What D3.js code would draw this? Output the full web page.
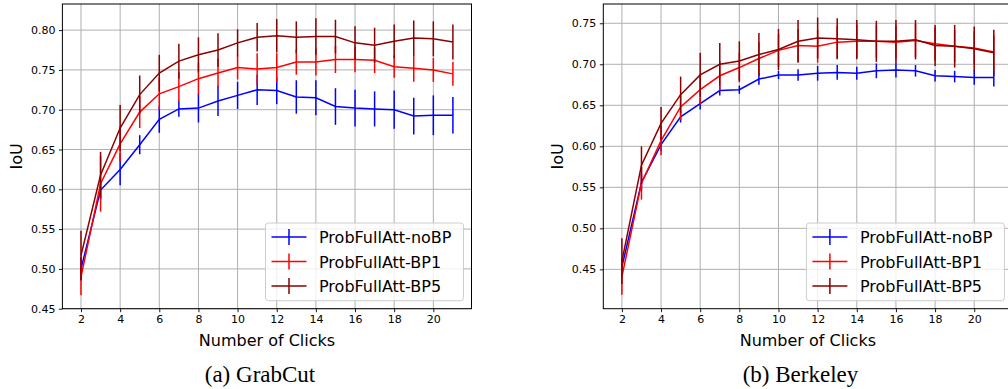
<!DOCTYPE html>
<html>
<head>
<meta charset="utf-8">
<script src="https://cdn.jsdelivr.net/npm/d3@7"></script>
<style>
  body { margin: 0; background: #fff; }
  svg { display: block; font-family: "DejaVu Sans", sans-serif; }
  .grid line { stroke: #b0b0b0; stroke-width: 1; }
  .caption { font-family: "Liberation Serif", "Times New Roman", serif; }
</style>
</head>
<body>
<div id="chart"></div>
<script>
var width = 1008,
    height = 389;

// x values (number of clicks)
var clicks = [2, 3, 4, 5, 6, 7, 8, 9, 10, 11, 12, 13, 14, 15, 16, 17, 18, 19, 20, 21];
var xTicks = [2, 4, 6, 8, 10, 12, 14, 16, 18, 20];
var seriesNames = ["ProbFullAtt-noBP", "ProbFullAtt-BP1", "ProbFullAtt-BP5"];
var seriesColors = ["#0000ff", "#ff0000", "#8b0000"];

// (a) GrabCut
var grabNoBP    = [0.500, 0.599, 0.625, 0.656, 0.688, 0.701, 0.702, 0.711, 0.718, 0.725, 0.724, 0.716, 0.715, 0.704, 0.702, 0.701, 0.700, 0.692, 0.693, 0.693];
var grabNoBPErr = [0.015, 0.012, 0.020, 0.012, 0.017, 0.010, 0.018, 0.019, 0.017, 0.019, 0.017, 0.021, 0.022, 0.023, 0.023, 0.022, 0.024, 0.023, 0.025, 0.023];
var grabBP1     = [0.490, 0.607, 0.657, 0.697, 0.720, 0.729, 0.739, 0.746, 0.753, 0.751, 0.753, 0.760, 0.760, 0.763, 0.763, 0.762, 0.754, 0.752, 0.750, 0.745];
var grabBP1Err  = [0.023, 0.035, 0.022, 0.020, 0.020, 0.018, 0.020, 0.018, 0.015, 0.020, 0.018, 0.016, 0.017, 0.017, 0.016, 0.016, 0.014, 0.017, 0.015, 0.015];
var grabBP5     = [0.517, 0.618, 0.677, 0.719, 0.746, 0.761, 0.769, 0.775, 0.784, 0.791, 0.793, 0.791, 0.792, 0.792, 0.784, 0.781, 0.786, 0.790, 0.789, 0.785];
var grabBP5Err  = [0.031, 0.029, 0.029, 0.024, 0.023, 0.022, 0.022, 0.021, 0.017, 0.018, 0.021, 0.020, 0.023, 0.021, 0.021, 0.022, 0.021, 0.022, 0.022, 0.022];
var grabYTicks  = [0.45, 0.50, 0.55, 0.60, 0.65, 0.70, 0.75, 0.80];

// (b) Berkeley
var berkNoBP    = [0.453, 0.556, 0.602, 0.636, 0.652, 0.668, 0.669, 0.682, 0.687, 0.687, 0.689, 0.690, 0.689, 0.692, 0.693, 0.692, 0.686, 0.685, 0.684, 0.684];
var berkNoBPErr = [0.010, 0.010, 0.008, 0.007, 0.007, 0.006, 0.005, 0.007, 0.005, 0.007, 0.009, 0.009, 0.008, 0.009, 0.009, 0.007, 0.007, 0.007, 0.009, 0.011];
var berkBP1     = [0.441, 0.555, 0.607, 0.648, 0.669, 0.686, 0.696, 0.707, 0.717, 0.723, 0.722, 0.727, 0.728, 0.728, 0.727, 0.729, 0.725, 0.722, 0.720, 0.715];
var berkBP1Err  = [0.022, 0.020, 0.018, 0.016, 0.018, 0.018, 0.018, 0.020, 0.020, 0.020, 0.020, 0.020, 0.020, 0.020, 0.020, 0.020, 0.020, 0.020, 0.020, 0.020];
var berkBP5     = [0.460, 0.577, 0.628, 0.663, 0.687, 0.700, 0.704, 0.712, 0.718, 0.728, 0.732, 0.731, 0.730, 0.728, 0.728, 0.730, 0.723, 0.722, 0.719, 0.714];
var berkBP5Err  = [0.028, 0.023, 0.020, 0.022, 0.027, 0.026, 0.024, 0.026, 0.025, 0.026, 0.025, 0.025, 0.024, 0.025, 0.026, 0.024, 0.025, 0.026, 0.027, 0.028];
var berkYTicks  = [0.45, 0.50, 0.55, 0.60, 0.65, 0.70, 0.75];

var xLimits = [1.05, 21.95];

var svg = d3.select("#chart")
    .append("svg")
    .attr("width", width)
    .attr("height", height);

function drawPanel(opts) {
    var x = d3.scaleLinear().domain(xLimits).range([opts.left, opts.right]);
    var y = d3.scaleLinear().domain(opts.yDomain).range([308.7, 4]);
    var g = svg.append("g");

    // grid
    var grid = g.append("g").attr("class", "grid");
    grid.selectAll("line.gx")
        .data(xTicks)
        .enter().append("line")
        .attr("x1", function (d) { return x(d); })
        .attr("x2", function (d) { return x(d); })
        .attr("y1", y.range()[0])
        .attr("y2", y.range()[1]);
    grid.selectAll("line.gy")
        .data(opts.yTicks)
        .enter().append("line")
        .attr("x1", opts.left)
        .attr("x2", opts.right)
        .attr("y1", function (d) { return y(d); })
        .attr("y2", function (d) { return y(d); });

    // series: line, then error bars
    var line = d3.line()
        .x(function (d) { return x(d.x); })
        .y(function (d) { return y(d.v); });

    opts.series.forEach(function (s, k) {
        var pts = clicks.map(function (c, i) {
            return { x: c, v: s.values[i], e: s.errors[i] };
        });
        g.append("path")
            .datum(pts)
            .attr("fill", "none")
            .attr("stroke", seriesColors[k])
            .attr("stroke-width", 1.5)
            .attr("d", line);
        g.selectAll(null)
            .data(pts)
            .enter().append("line")
            .attr("x1", function (d) { return x(d.x); })
            .attr("x2", function (d) { return x(d.x); })
            .attr("y1", function (d) { return y(d.v - d.e); })
            .attr("y2", function (d) { return y(d.v + d.e); })
            .attr("stroke", seriesColors[k])
            .attr("stroke-width", 1.5);
    });

    // axes
    var xAxis = d3.axisBottom(x).tickValues(xTicks).tickSize(3.5).tickPadding(3.5);
    var yAxis = d3.axisLeft(y).tickValues(opts.yTicks).tickFormat(d3.format(".2f")).tickSize(3.5).tickPadding(3.5);

    var gx = g.append("g")
        .attr("transform", "translate(0," + y.range()[0] + ")")
        .call(xAxis);
    var gy = g.append("g")
        .attr("transform", "translate(" + opts.left + ",0)")
        .call(yAxis);
    [gx, gy].forEach(function (a) {
        a.select(".domain").remove();
        a.selectAll("text")
            .style("font-family", "DejaVu Sans")
            .style("font-size", "11px")
            .attr("fill", "#000");
        a.selectAll("line").attr("stroke", "#000").attr("stroke-width", 0.9);
    });

    // frame
    g.append("rect")
        .attr("x", opts.left)
        .attr("y", y.range()[1])
        .attr("width", opts.right - opts.left)
        .attr("height", y.range()[0] - y.range()[1])
        .attr("fill", "none")
        .attr("stroke", "#000")
        .attr("stroke-width", 1);

    // legend
    var lg = g.append("g")
        .attr("transform", "translate(" + (opts.right - 8 - 198) + ",223)");
    lg.append("rect")
        .attr("width", 198)
        .attr("height", 77.7)
        .attr("rx", 3)
        .attr("fill", "#fff")
        .attr("fill-opacity", 0.8)
        .attr("stroke", "#cccccc")
        .attr("stroke-width", 1);
    seriesNames.forEach(function (name, k) {
        var cy = 14 + k * 24.5;
        lg.append("line")
            .attr("x1", 6).attr("x2", 41)
            .attr("y1", cy).attr("y2", cy)
            .attr("stroke", seriesColors[k])
            .attr("stroke-width", 1.5);
        lg.append("line")
            .attr("x1", 23.5).attr("x2", 23.5)
            .attr("y1", cy - 8).attr("y2", cy + 8)
            .attr("stroke", seriesColors[k])
            .attr("stroke-width", 1.5);
        lg.append("text")
            .attr("x", 53.5)
            .attr("y", cy + 6.3)
            .style("font-size", "16px")
            .text(name);
    });

    // labels
    g.append("text")
        .attr("x", (opts.left + opts.right) / 2)
        .attr("y", 345.7)
        .attr("text-anchor", "middle")
        .style("font-size", "16px")
        .text("Number of Clicks");
    g.append("text")
        .attr("transform", "translate(" + (opts.left - 46.2) + "," + ((308.7 + 4) / 2) + ")rotate(-90)")
        .attr("text-anchor", "middle")
        .attr("dy", "0.35em")
        .style("font-size", "16px")
        .text("IoU");
    g.append("text")
        .attr("class", "caption")
        .attr("x", opts.captionX)
        .attr("y", 382)
        .attr("text-anchor", "middle")
        .style("font-size", "23px")
        .text(opts.caption);
}

drawPanel({
    left: 62.4, right: 471.5,
    yDomain: [0.45, 0.8328],
    yTicks: grabYTicks,
    series: [
        { values: grabNoBP, errors: grabNoBPErr },
        { values: grabBP1, errors: grabBP1Err },
        { values: grabBP5, errors: grabBP5Err }
    ],
    caption: "(a) GrabCut",
    captionX: 260
});

drawPanel({
    left: 603.3, right: 1012.4,
    yDomain: [0.402, 0.7735],
    yTicks: berkYTicks,
    series: [
        { values: berkNoBP, errors: berkNoBPErr },
        { values: berkBP1, errors: berkBP1Err },
        { values: berkBP5, errors: berkBP5Err }
    ],
    caption: "(b) Berkeley",
    captionX: 800.5
});
</script>
</body>
</html>
